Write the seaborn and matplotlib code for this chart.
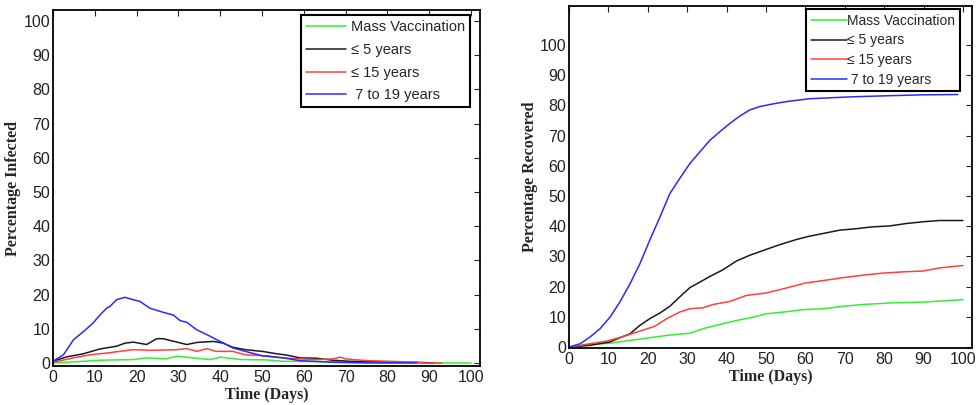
import numpy as np
import pandas as pd
import matplotlib
matplotlib.use("Agg")
import matplotlib.pyplot as plt
import seaborn as sns

sns.set_theme(style="white")
plt.rcParams['font.family'] = ['Liberation Sans', 'DejaVu Sans']

labels = ["Mass Vaccination", "\u2264 5 years", "\u2264 15 years", " 7 to 19 years"]
colors = ["#33ee33", "#1a1a1a", "#ff4040", "#2a2aff"]

# ---- Infected (left) ----
inf_mass_x = [0, 7.3, 11.2, 19.2, 22.4, 27, 29.6, 33.5, 37.5, 40, 45, 51, 55, 63, 71, 83, 91, 100]
inf_mass_y = [0, 0.5, 0.8, 1.0, 1.5, 1.2, 2.0, 1.5, 1.0, 1.7, 1.0, 0.9, 0.5, 0.4, 0.3, 0.2, 0, 0]

inf_5_x = [0, 3.3, 7.3, 11.2, 15.2, 17.2, 19.2, 22.4, 24.8, 26.4, 28, 32, 34.4, 38.4, 40.7, 43, 46, 50,
           53.5, 56, 59, 63, 67, 71, 75, 83, 87, 91]
inf_5_y = [0.5, 1.8, 2.7, 4.1, 4.9, 5.8, 6.1, 5.4, 7.1, 7.1, 6.6, 5.4, 6.0, 6.3, 5.8, 4.6, 3.9, 3.4,
           2.7, 2.3, 1.5, 1.4, 0.8, 0.5, 0.4, 0.2, 0.2, 0]

inf_15_x = [0, 4.9, 8.9, 12.8, 16, 19.2, 23.2, 29.6, 32, 34.4, 36.8, 39, 43, 46, 51, 55, 59, 63, 67,
            68.7, 70, 75, 83, 89, 93]
inf_15_y = [0.2, 1.5, 2.4, 2.9, 3.4, 3.9, 3.7, 3.9, 4.2, 3.4, 4.2, 3.4, 3.4, 2.4, 2.1, 1.5, 1.2, 1.0, 1.2,
            1.7, 1.2, 0.7, 0.4, 0, 0]

inf_719_x = [0, 2.5, 4.9, 7.3, 9.6, 11.2, 12.8, 13.6, 15.2, 17.2, 19.2, 20.8, 23.2, 26.4, 28.8, 30.4,
             32, 34.4, 36.8, 40, 43, 46, 50, 55, 59, 67, 75, 87]
inf_719_y = [0.5, 2.4, 6.8, 9.2, 11.7, 14.0, 16.0, 16.5, 18.5, 19.2, 18.5, 18.0, 16.0, 14.8, 14.0, 12.4,
             11.9, 9.7, 8.3, 6.3, 4.4, 3.4, 2.1, 1.5, 0.7, 0.2, 0, 0]

# ---- Recovered (right) ----
rec_mass_x = [0, 5.3, 10.4, 15.5, 20.5, 25.6, 30.7, 34, 38.3, 42.5, 46.7, 50, 54.4, 59.4, 64.5, 69.6,
              74.6, 81.4, 90, 100]
rec_mass_y = [0, 0.8, 1.3, 2.2, 3.1, 4.0, 4.6, 6.1, 7.5, 8.8, 9.9, 11.0, 11.6, 12.4, 12.7, 13.5,
              14.1, 14.6, 14.9, 15.7]

rec_5_x = [0, 5.3, 10.4, 12.9, 15.5, 18, 20.5, 23.1, 25.6, 28.1, 30.7, 33.2, 35.8, 39.1, 42.5, 45.9,
           50, 53.5, 57.7, 61, 64.5, 68.7, 73, 77, 81.4, 85.6, 90, 94, 100]
rec_5_y = [0, 0.6, 1.7, 3.1, 4.4, 7.2, 9.4, 11.3, 13.5, 16.6, 19.7, 21.5, 23.4, 25.6, 28.5, 30.4,
           32.3, 33.9, 35.6, 36.7, 37.6, 38.7, 39.2, 39.8, 40.1, 40.9, 41.5, 41.9, 41.9]

rec_15_x = [0, 5.3, 9.6, 13.8, 18, 21.8, 24.8, 28.1, 30.7, 34, 36.6, 40.8, 45, 50, 54.4, 60, 65, 69.6,
            74.6, 79.7, 84.8, 90, 94, 100]
rec_15_y = [0, 1.1, 2.0, 3.5, 5.3, 6.9, 9.4, 11.6, 12.7, 13.0, 14.1, 15.1, 17.1, 17.9, 19.3, 21.2,
            22.1, 23.0, 23.8, 24.5, 24.9, 25.2, 26.2, 27.0]

rec_719_x = [0, 2.8, 5.3, 7.9, 10.4, 12.9, 15.5, 18, 20.5, 23.1, 25.6, 28.1, 30.7, 33.2, 35.8, 38.3,
             40.8, 43.4, 45.9, 48.4, 51, 53.5, 56, 61, 66, 71, 81, 90, 98.7]
rec_719_y = [0, 1.1, 3.3, 6.1, 9.9, 14.9, 21.0, 27.6, 35.4, 43.1, 50.8, 55.8, 60.8, 64.6, 68.5, 71.3,
             74.0, 76.5, 78.5, 79.6, 80.3, 80.9, 81.4, 82.2, 82.5, 82.8, 83.2, 83.5, 83.6]

inf_series = [(inf_mass_x, inf_mass_y), (inf_5_x, inf_5_y), (inf_15_x, inf_15_y), (inf_719_x, inf_719_y)]
rec_series = [(rec_mass_x, rec_mass_y), (rec_5_x, rec_5_y), (rec_15_x, rec_15_y), (rec_719_x, rec_719_y)]

fig = plt.figure(figsize=(9.79, 4.05), dpi=100)
axL = fig.add_axes([53/979, 39/405, 427/979, 356/405])
axR = fig.add_axes([569/979, 57/405, 403/979, 342/405])

serif = ['Liberation Serif', 'DejaVu Serif']

def draw(ax, series, xlim, ylim, ylabel, leg_anchor, legfs, labelspacing, handlelength,
         handletextpad, ylabelpad):
    for (x, y), lab, col in zip(series, labels, colors):
        df = pd.DataFrame({"day": x, "val": y})
        sns.lineplot(data=df, x="day", y="val", ax=ax, color=col, label=lab, lw=1.1,
                     estimator=None, sort=False)
    ax.set_xlim(*xlim)
    ax.set_ylim(*ylim)
    ax.set_xticks(np.arange(0, 101, 10))
    ax.set_yticks(np.arange(0, 101, 10))
    ax.tick_params(direction='in', top=True, right=True, length=4, width=0.8,
                   labelsize=11.5, colors='#222222', pad=2)
    ax.tick_params(axis='x', pad=3)
    for s in ax.spines.values():
        s.set_color('black')
        s.set_linewidth(1.3)
    ax.set_xlabel("Time (Days)", fontsize=11.5, fontweight='bold', family=serif, labelpad=1)
    ax.set_ylabel(ylabel, fontsize=11.5, fontweight='bold', family=serif, labelpad=ylabelpad)
    leg = ax.legend(loc='upper right', bbox_to_anchor=leg_anchor, borderaxespad=0,
                    fancybox=False, framealpha=1, edgecolor='black', fontsize=legfs,
                    labelspacing=labelspacing, handlelength=handlelength,
                    handletextpad=handletextpad, borderpad=0.35)
    leg.get_frame().set_linewidth(1.5)
    ax.grid(False)

draw(axL, inf_series, (0, 102.15), (-0.88, 103.2), "Percentage Infected",
     ((470-53)/427, (366-15)/356), 10.5, 0.6, 2.75, 0.3, 2)
draw(axR, rec_series, (0, 102.3), (-0.3, 112.9), "Percentage Recovered",
     ((960-569)/403, (348-9)/342), 10, 0.4, 2.6, 0.0, 1.5)

fig.savefig("out.png", dpi=100)
